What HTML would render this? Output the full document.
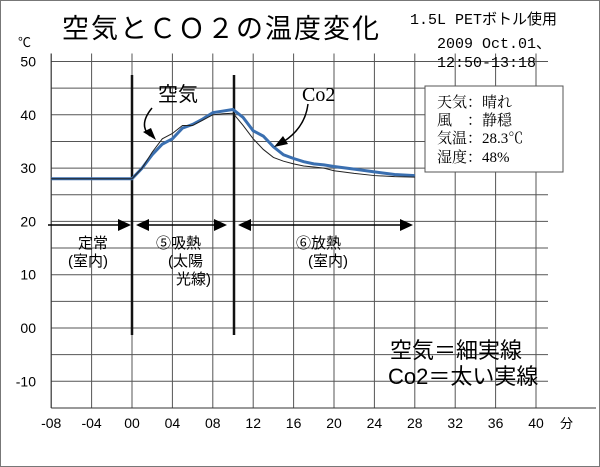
<!DOCTYPE html>
<html><head><meta charset="utf-8"><style>
html,body{margin:0;padding:0;background:#fff}
svg{display:block;font-family:"Liberation Serif","Noto Serif CJK SC","Noto Sans CJK JP",serif}
</style></head><body>
<svg id="chart" width="600" height="467" viewBox="0 0 600 467">
<rect x="0.5" y="0.5" width="599" height="466" fill="#fff" stroke="#777"/>
<g id="grid"></g>
<g id="series"></g>
<text x="62" y="38" font-size="27" font-family="Liberation Sans,Noto Sans CJK JP,sans-serif" letter-spacing="2">空気とＣＯ２の温度変化</text>
<text x="18" y="47" font-size="13" font-family="Liberation Sans,Noto Sans CJK JP,sans-serif">℃</text>
<text x="410" y="24" font-size="15" font-family="Liberation Mono,Noto Sans CJK JP,monospace">1.5L PETボトル使用</text>
<text x="437" y="48" font-size="15" font-family="Liberation Mono,Noto Sans CJK JP,monospace">2009 Oct.01、</text>
<text x="437" y="67" font-size="15" font-family="Liberation Mono,Noto Sans CJK JP,monospace">12:50-13:18</text>
<g>
<rect x="425" y="86" width="138" height="86" fill="#fff" stroke="#555"/>
<text x="437" y="107" font-size="15">天気：晴れ</text>
<text x="437" y="125" font-size="15">風　：静穏</text>
<text x="437" y="143" font-size="15">気温：28.3℃</text>
<text x="437" y="162" font-size="15">湿度：48%</text>
</g>
<text x="158" y="101" font-size="20" font-family="Liberation Sans,Noto Sans CJK JP,sans-serif">空気</text>
<text x="302" y="101" font-size="20">Co2</text>
<path d="M152 108 Q138 125 150 136" fill="none" stroke="#000" stroke-width="1.5"/>
<polygon points="156,140 143,132 151,128" fill="#000"/>
<path d="M308 104 Q305 128 283 142" fill="none" stroke="#000" stroke-width="1.5"/>
<polygon points="274,147 283,136 288,144" fill="#000"/>
<g stroke="#000" stroke-width="1.5">
<line x1="48" y1="225" x2="120" y2="225"/><polygon points="131,225 118,219 118,231" fill="#000" stroke="none"/>
<line x1="145" y1="225" x2="215" y2="225"/><polygon points="136,225 149,219 149,231" fill="#000" stroke="none"/><polygon points="227,225 214,219 214,231" fill="#000" stroke="none"/>
<line x1="248" y1="225" x2="400" y2="225"/><polygon points="238,225 251,219 251,231" fill="#000" stroke="none"/><polygon points="413,225 400,219 400,231" fill="#000" stroke="none"/>
</g>
<g font-size="15" font-family="Liberation Sans,Noto Sans CJK JP,sans-serif">
<text x="78" y="248">定常</text><text x="68" y="266">(室内)</text>
<text x="156" y="248">⑤吸熱</text><text x="168" y="266">(太陽</text><text x="176" y="284">光線)</text>
<text x="296" y="248">⑥放熱</text><text x="308" y="266">(室内)</text>
</g>
<g font-size="22" font-family="Liberation Sans,Noto Sans CJK JP,sans-serif">
<text x="390" y="358">空気＝細実線</text>
<text x="388" y="384">Co2＝太い実線</text>
</g>
</svg>
<script>
const tickMinutes=[-8,-4,0,4,8,12,16,20,24,28,32,36,40];
const tickXLabels=["-08","-04","00","04","08","12","16","20","24","28","32","36","40"];
const tickTemps=[50,40,30,20,10,0,-10];
const tickYLabels=["50","40","30","20","10","00","-10"];
const times=[-8,0,1,2,3,4,5,6,7,8,9,10,11,12,13,14,15,16,17,18,19,20,22,24,26,28];
const airTemps=[28,28,30,33,35.5,36.5,38,38,39,40,40.2,40.3,38,35.5,33.5,32,31.3,30.8,30.4,30.2,30,29.5,29,28.6,28.4,28.3];
const co2Temps=[28,28,30,32.5,34.5,35.5,37.5,38.2,39.2,40.4,40.7,41,39.5,37,36,34,32.5,31.8,31.2,30.8,30.6,30.3,29.8,29.3,28.8,28.6];
const phaseLines=[0,10];
const xS=t=>132+t*10.1;
const yS=v=>328-v*5.33;
const NS="http://www.w3.org/2000/svg";
function mk(tag,attrs,parent){const e=document.createElementNS(NS,tag);for(const k in attrs)e.setAttribute(k,attrs[k]);parent.appendChild(e);return e;}
const g=document.getElementById('grid');
for(let v=50;v>=-10;v-=5){const l=mk('line',{x1:xS(-8),x2:548,y1:yS(v),y2:yS(v),stroke:'#555','stroke-width':1},g);

}
tickMinutes.forEach((m,i)=>{const l=mk('line',{x1:xS(m),x2:xS(m),y1:yS(50)-8,y2:yS(-15),stroke:'#555','stroke-width':1},g);


const t=mk('text',{x:xS(m),y:yS(-15)+20,'font-size':14,'text-anchor':'middle','font-family':'Liberation Sans,sans-serif'},g);t.textContent=tickXLabels[i];

});
const ax=mk('line',{x1:xS(-8),x2:596,y1:yS(-15),y2:yS(-15),stroke:'#333','stroke-width':1},g);


const ay=mk('line',{x1:xS(-8),x2:xS(-8),y1:yS(50)-8,y2:yS(-15),stroke:'#333','stroke-width':1},g);


const un=mk('text',{x:560,y:yS(-15)+20,'font-size':13,'font-family':'Liberation Sans,Noto Sans CJK JP,sans-serif'},g);un.textContent='分';


tickTemps.forEach((v,i)=>{const t=mk('text',{x:36,y:yS(v)+5,'font-size':14,'text-anchor':'end','font-family':'Liberation Sans,sans-serif'},g);t.textContent=tickYLabels[i];

});
const s=document.getElementById('series');
phaseLines.forEach(m=>{const l=mk('line',{x1:xS(m)+(m?1:0),x2:xS(m)+(m?1:0),y1:75,y2:335,stroke:'#111','stroke-width':2.5},s);

});
const pts=a=>times.map((t,i)=>xS(t)+','+yS(a[i])).join(' ');
const co2=mk('polyline',{points:pts(co2Temps),fill:'none',stroke:'#3a6fb0','stroke-width':3},s);


const air=mk('polyline',{points:pts(airTemps),fill:'none',stroke:'#222','stroke-width':1},s);


</script>
</body></html>
